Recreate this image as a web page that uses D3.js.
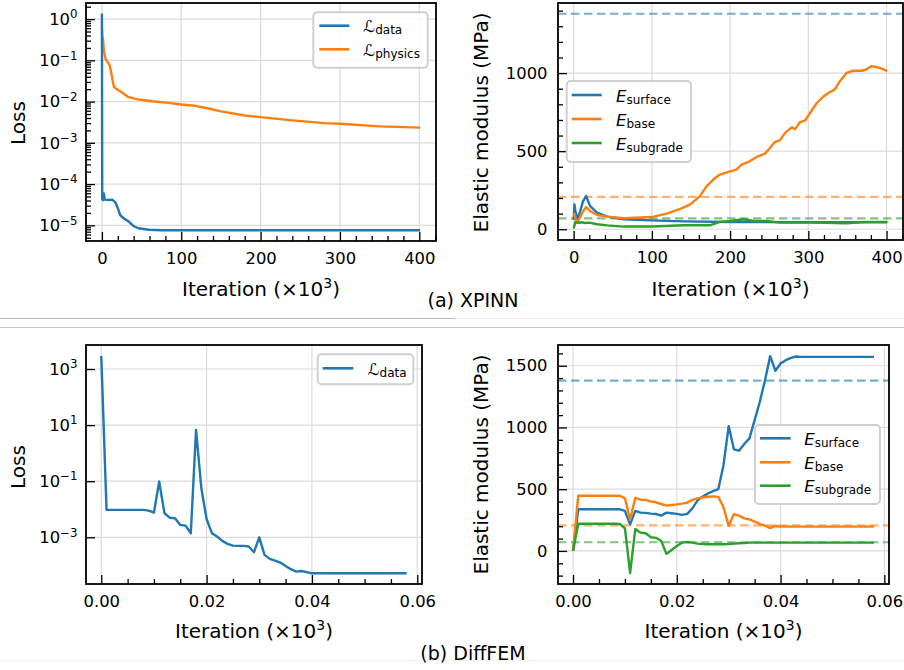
<!DOCTYPE html>
<html>
<head>
<meta charset="utf-8">
<script src="https://cdn.jsdelivr.net/npm/d3@7"></script>
<style>
  body { margin: 0; background: #fff; }
  svg { display: block; }
  text { font-family: "DejaVu Sans", "Liberation Sans", sans-serif; fill: #000; }
</style>
</head>
<body>
<svg id="fig" width="904" height="670"></svg>
<script>
// ---------- (a) XPINN: loss histories (iteration in thousands) ----------
const xpinnDataIter = [0, 0.4, 1.5, 2.5, 3.5, 8.8, 13, 17, 20, 23, 27.5, 33.8, 40, 46, 59, 76, 150, 250, 401];
const xpinnDataLoss = [1.36, 4.3e-5, 4.1e-5, 5.9e-5, 4.2e-5, 4.1e-5, 4.2e-5, 3.6e-5, 2.6e-5, 1.78e-5, 1.48e-5,
  1.23e-5, 9.5e-6, 8.5e-6, 7.8e-6, 7.6e-6, 7.6e-6, 7.6e-6, 7.6e-6];
const xpinnPhysIter = [0, 0.6, 1.3, 2.5, 4.6, 7.5, 10, 12, 15, 18, 23, 27.5, 33, 38, 46, 63, 84, 100, 117, 130,
  150, 180, 200, 240, 280, 300, 350, 401];
const xpinnPhysLoss = [0.65, 0.36, 0.34, 0.17, 0.107, 0.089, 0.074, 0.047, 0.023, 0.0204, 0.0178, 0.0155, 0.0129,
  0.0123, 0.0112, 0.0102, 0.0093, 0.0085, 0.0079, 0.0071, 0.0058, 0.0046, 0.0042, 0.0035, 0.0030, 0.0029,
  0.0025, 0.00234];

// ---------- (a) XPINN: identified moduli (MPa) ----------
const xpinnSurfIter = [0, 1, 2, 5, 8, 12, 16, 21, 30, 43, 64, 100, 141, 200, 300, 401];
const xpinnSurf = [60, 159, 120, 64, 110, 180, 212, 148, 106, 81, 64, 57, 50, 46, 45, 45];
const xpinnBaseIter = [0, 1, 3, 5, 8, 12, 16, 21, 30, 43, 64, 100, 120, 137, 149, 161.5, 170, 178.4, 187, 200,
  208, 214.7, 225, 234, 244.5, 251, 257, 263.6, 270, 278.6, 283, 289, 296, 302, 310.5, 319, 325, 334, 340,
  349, 357, 368, 374, 381, 389, 395.6, 401];
const xpinnBase = [80, 100, 55, 45, 75, 115, 142, 117, 91, 81, 70, 78, 102, 132, 159, 212, 276, 318, 350, 371,
  382, 414, 435, 463, 484, 520, 558, 569, 616, 652, 641, 684, 697, 743, 807, 849, 871, 896, 945,
  1002, 1015, 1015, 1023, 1045, 1036, 1025, 1013];
const xpinnSubIter = [0, 2, 5, 10, 15, 20, 30, 43, 64, 100, 141, 174, 187, 200, 217, 230, 247, 264, 306, 349, 374, 401];
const xpinnSub = [5, 45, 40, 45, 40, 42, 32, 25, 17, 17, 25, 25, 47, 53, 64, 53, 53, 42, 42, 38, 47, 47];

// ---------- (b) DiffFEM: one value per iteration, 0..58 (x in thousands) ----------
const femIter = d3.range(59).map(i => i / 1000);
const femLoss = [2930, 9.5e-3, 9.5e-3, 9.5e-3, 9.5e-3, 9.5e-3, 9.5e-3, 9.5e-3, 9.5e-3, 8.97e-3, 7.6e-3,
  0.097, 7.2e-3, 5.0e-3, 4.8e-3, 2.77e-3, 2.62e-3, 1.40e-3, 6.75, 0.056, 4.5e-3,
  1.4e-3, 1.06e-3, 7.45e-4, 5.8e-4, 5.07e-4, 4.93e-4, 4.93e-4, 4.68e-4, 2.94e-4, 1.0e-3,
  2.36e-4, 1.70e-4, 1.48e-4, 1.26e-4, 9.5e-5, 7.3e-5, 6.0e-5, 6.3e-5, 5.7e-5, 5.2e-5,
  5.2e-5, 5.2e-5, 5.2e-5, 5.2e-5, 5.2e-5, 5.2e-5, 5.2e-5, 5.2e-5, 5.2e-5, 5.2e-5,
  5.2e-5, 5.2e-5, 5.2e-5, 5.2e-5, 5.2e-5, 5.2e-5, 5.2e-5, 5.2e-5];
const femSurf = [0, 337, 337, 337, 337, 337, 337, 337, 337, 337, 324,
  215, 324, 310, 308, 302, 299, 286, 310, 305, 300,
  292, 300, 345, 410, 440, 465, 485, 500, 696, 1011,
  823, 812, 866, 912, 1060, 1208, 1383, 1578, 1459, 1518,
  1545, 1564, 1575, 1572, 1572, 1572, 1572, 1572, 1572, 1572,
  1572, 1572, 1572, 1572, 1572, 1572, 1572, 1572];
const femBase = [0, 447, 447, 447, 447, 447, 447, 447, 447, 447, 426,
  255, 430, 415, 413, 400, 394, 380, 367, 372, 377,
  383, 391, 413, 426, 434, 439, 442, 438, 355, 203,
  297, 286, 264, 256, 237, 218, 205, 185, 202, 197,
  197, 197, 197, 197, 197, 197, 197, 197, 197, 197,
  197, 197, 197, 197, 197, 197, 197, 197];
const femSub = [0, 220, 220, 220, 220, 220, 220, 220, 220, 218, 184,
  -180, 178, 148, 143, 111, 106, 81, -24, 8, 40,
  67, 72, 67, 59, 56, 54, 54, 54, 54, 56,
  59, 62, 64, 67, 67, 67, 67, 67, 67, 67,
  67, 67, 67, 67, 67, 67, 67, 67, 67, 67,
  67, 67, 67, 67, 67, 67, 67, 67];

// reference (true) moduli, MPa
const trueModuli = [1380, 207, 70];

const BLUE = "#1f77b4", ORANGE = "#ff7f0e", GREEN = "#2ca02c";
const layerColors = [BLUE, ORANGE, GREEN];
const layerNames = ["surface", "base", "subgrade"];

const svg = d3.select("#fig");
const TICK_FS = 16.4, LABEL_FS = 20;

// separators between the two rows
svg.append("line").attr("x1", 0).attr("x2", 455).attr("y1", 318.5).attr("y2", 318.5).attr("stroke", "#b8b8b8");
svg.append("line").attr("x1", 455).attr("x2", 904).attr("y1", 318.5).attr("y2", 318.5).attr("stroke", "#ececec");
svg.append("line").attr("x1", 0).attr("x2", 904).attr("y1", 327.5).attr("y2", 327.5).attr("stroke", "#c6c6c6");
svg.append("line").attr("x1", 0).attr("x2", 904).attr("y1", 660.5).attr("y2", 660.5).attr("stroke", "#f3f3f3");

let clipId = 0;

function panel(cfg) {
  const b = cfg.box;
  const g = svg.append("g");
  const x = cfg.x.range([b.l, b.r]);
  const y = cfg.y.range([b.b, b.t]);

  // grid at major ticks
  const grid = g.append("g").attr("stroke", "#dcdcdc").attr("stroke-width", 1.2);
  grid.selectAll(".gx").data(cfg.xMajor).join("line")
    .attr("x1", d => x(d)).attr("x2", d => x(d)).attr("y1", b.t).attr("y2", b.b);
  grid.selectAll(".gy").data(cfg.yMajor).join("line")
    .attr("x1", b.l).attr("x2", b.r).attr("y1", d => y(d)).attr("y2", d => y(d));

  const id = "clip" + (clipId++);
  g.append("clipPath").attr("id", id).append("rect")
    .attr("x", b.l).attr("y", b.t).attr("width", b.r - b.l).attr("height", b.b - b.t);
  const plot = g.append("g").attr("clip-path", `url(#${id})`);

  // axes: ticks point inwards
  const styleAxis = sel => {
    sel.select(".domain").remove();
    sel.selectAll(".tick line").attr("stroke", "#000").attr("stroke-width", 1.3);
    sel.selectAll("text").attr("font-size", TICK_FS).attr("font-family", null).attr("fill", "#000");
    sel.attr("font-family", null);
  };
  const xa = g.append("g").attr("transform", `translate(0,${b.b})`)
    .call(d3.axisBottom(x).tickValues(cfg.xMajor).tickSize(-9).tickPadding(11.5).tickFormat(cfg.xFmt));
  styleAxis(xa);
  const xm = g.append("g").attr("transform", `translate(0,${b.b})`)
    .call(d3.axisBottom(x).tickValues(cfg.xMinor).tickSize(-5).tickFormat(""));
  styleAxis(xm);

  const ya = g.append("g").attr("transform", `translate(${b.l},0)`)
    .call(d3.axisLeft(y).tickValues(cfg.yMajor).tickSize(-9).tickPadding(cfg.yPad)
      .tickFormat(cfg.yLog ? () => "10" : d3.format("d")));
  styleAxis(ya);
  if (cfg.yLog) {
    ya.selectAll(".tick text").each(function (d) {
      const e = Math.round(Math.log10(d));
      d3.select(this).append("tspan").attr("dy", "-0.55em").attr("font-size", "0.72em")
        .text(e < 0 ? "\u2212" + (-e) : String(e));
    });
  }
  if (cfg.yMinor.length) {
    const ym = g.append("g").attr("transform", `translate(${b.l},0)`)
      .call(d3.axisLeft(y).tickValues(cfg.yMinor).tickSize(-5).tickFormat(""));
    styleAxis(ym);
  }

  // frame
  g.append("rect").attr("x", b.l).attr("y", b.t).attr("width", b.r - b.l).attr("height", b.b - b.t)
    .attr("fill", "none").attr("stroke", "#000").attr("stroke-width", 1.8);

  // x label
  const xl = g.append("text").attr("x", (b.l + b.r) / 2).attr("y", cfg.xLabelY)
    .attr("text-anchor", "middle").attr("font-size", LABEL_FS);
  xl.append("tspan").text("Iteration (\u00d710");
  xl.append("tspan").attr("dy", -8).attr("font-size", 14).text("3");
  xl.append("tspan").attr("dy", 8).text(")");

  // y label
  g.append("text").attr("transform", `translate(${cfg.yLabelX},${cfg.yLabelY}) rotate(-90)`)
    .attr("dy", "0.36em").attr("text-anchor", "middle").attr("font-size", LABEL_FS).text(cfg.yLabel);

  return { g, plot, x, y };
}

function drawLine(p, xs, ys, color, dash) {
  const pts = xs.map((v, i) => [v, ys[i]]);
  p.plot.append("path").datum(pts)
    .attr("fill", "none").attr("stroke", color).attr("stroke-width", 2.4)
    .attr("stroke-linejoin", "round")
    .attr("d", d3.line().x(d => p.x(d[0])).y(d => p.y(d[1])));
}

function drawTrue(p) {
  const [x0, x1] = p.x.domain();
  trueModuli.forEach((v, i) => {
    p.plot.append("line").attr("x1", p.x(x0)).attr("x2", p.x(x1))
      .attr("y1", p.y(v)).attr("y2", p.y(v))
      .attr("stroke", layerColors[i]).attr("stroke-opacity", 0.6)
      .attr("stroke-width", 2.2).attr("stroke-dasharray", "8.5,4.5");
  });
}

// legend: items = [{color, main, italic, sub}]
function legend(box, lineX, textX, rowsY, items) {
  const g = svg.append("g");
  g.append("rect").attr("x", box[0]).attr("y", box[1]).attr("width", box[2] - box[0]).attr("height", box[3] - box[1])
    .attr("rx", 4).attr("fill", "#fff").attr("fill-opacity", 0.85)
    .attr("stroke", "#d0d0d0").attr("stroke-width", 2);
  items.forEach((it, i) => {
    const yy = rowsY[i];
    g.append("line").attr("x1", lineX[0]).attr("x2", lineX[1]).attr("y1", yy).attr("y2", yy)
      .attr("stroke", it.color).attr("stroke-width", 2.6);
    const t = g.append("text").attr("x", textX).attr("y", yy + 6.5).attr("font-size", 16.5);
    t.append("tspan").attr("font-style", it.italic ? "italic" : null).text(it.main);
    t.append("tspan").attr("dy", 2.2).attr("font-size", 12).text(it.sub);
  });
}

// ---------------- (a) XPINN ----------------
const logMinor = (lo, hi) => {
  const out = [];
  for (let e = Math.floor(Math.log10(lo)); e <= Math.ceil(Math.log10(hi)); e++)
    for (let k = 2; k <= 9; k++) { const v = k * Math.pow(10, e); if (v > lo && v < hi) out.push(v); }
  return out;
};
const stepTicks = (lo, hi, step, skip) => d3.range(Math.ceil(lo / step) * step, hi + step * 1e-6, step)
  .map(v => +v.toFixed(6)).filter(v => v > lo + step * 0.05 && v < hi - step * 0.05 && !skip.some(s => Math.abs(s - v) < step * 1e-3));

const itDom = [-20.05, 421.05];
const itMajor = [0, 100, 200, 300, 400];
const itMinor = stepTicks(itDom[0], itDom[1], 20, itMajor);

const tlDom = [Math.pow(10, -5.38), Math.pow(10, 0.39)];
const pA1 = panel({
  box: { l: 86, r: 436, t: 3, b: 241 },
  x: d3.scaleLinear().domain(itDom), y: d3.scaleLog().domain(tlDom),
  xMajor: itMajor, xMinor: itMinor, xFmt: d3.format("d"),
  yMajor: [1e-5, 1e-4, 1e-3, 1e-2, 1e-1, 1], yMinor: logMinor(tlDom[0], tlDom[1]),
  yLog: true, yPad: 8.5,
  xLabelY: 295.5, yLabel: "Loss", yLabelX: 18, yLabelY: 123
});
drawLine(pA1, xpinnPhysIter, xpinnPhysLoss, ORANGE);
drawLine(pA1, xpinnDataIter, xpinnDataLoss, BLUE);
legend([313.3, 12.3, 427.7, 67.7], [319.3, 349.3], 363.3, [25.7, 49.3], [
  { color: BLUE, main: "\u2112", sub: "data" },
  { color: ORANGE, main: "\u2112", sub: "physics" }
]);

const trDom = [-69, 1449];
const pA2 = panel({
  box: { l: 558, r: 903, t: 3, b: 240 },
  x: d3.scaleLinear().domain(itDom), y: d3.scaleLinear().domain(trDom),
  xMajor: itMajor, xMinor: itMinor, xFmt: d3.format("d"),
  yMajor: [0, 500, 1000], yMinor: stepTicks(trDom[0], trDom[1], 100, [0, 500, 1000]),
  yLog: false, yPad: 10.5,
  xLabelY: 295.5, yLabel: "Elastic modulus (MPa)", yLabelX: 480.5, yLabelY: 122.5
});
drawTrue(pA2);
drawLine(pA2, xpinnSurfIter, xpinnSurf, BLUE);
drawLine(pA2, xpinnBaseIter, xpinnBase, ORANGE);
drawLine(pA2, xpinnSubIter, xpinnSub, GREEN);
legend([566.7, 81, 691, 162], [571.7, 601.7], 616, [95, 119, 143],
  layerNames.map((n, i) => ({ color: layerColors[i], main: "E", italic: true, sub: n })));

svg.append("text").attr("x", 473).attr("y", 307).attr("text-anchor", "middle").attr("font-size", 19).text("(a) XPINN");

// ---------------- (b) DiffFEM ----------------
const femDom = [-0.0029, 0.0609];
const femMajor = [0, 0.02, 0.04, 0.06];
const femMinor = stepTicks(femDom[0], femDom[1], 0.005, femMajor);

const blDom = [Math.pow(10, -4.665), Math.pow(10, 3.856)];
const pB1 = panel({
  box: { l: 86, r: 422, t: 345, b: 584 },
  x: d3.scaleLinear().domain(femDom), y: d3.scaleLog().domain(blDom),
  xMajor: femMajor, xMinor: femMinor, xFmt: d3.format(".2f"),
  yMajor: [1e-3, 1e-1, 1e1, 1e3], yMinor: [],
  yLog: true, yPad: 8.5,
  xLabelY: 638.3, yLabel: "Loss", yLabelX: 18, yLabelY: 467
});
drawLine(pB1, femIter, femLoss, BLUE);
legend([317.7, 354.3, 413.3, 384.3], [322.7, 353.3], 367.7, [368.3], [
  { color: BLUE, main: "\u2112", sub: "data" }
]);

const brDom = [-268, 1668];
const pB2 = panel({
  box: { l: 558, r: 889, t: 345, b: 584 },
  x: d3.scaleLinear().domain(femDom), y: d3.scaleLinear().domain(brDom),
  xMajor: femMajor, xMinor: femMinor, xFmt: d3.format(".2f"),
  yMajor: [0, 500, 1000, 1500], yMinor: stepTicks(brDom[0], brDom[1], 100, [0, 500, 1000, 1500]),
  yLog: false, yPad: 10.5,
  xLabelY: 638.3, yLabel: "Elastic modulus (MPa)", yLabelX: 480.5, yLabelY: 464.5
});
drawTrue(pB2);
drawLine(pB2, femIter, femSurf, BLUE);
drawLine(pB2, femIter, femBase, ORANGE);
drawLine(pB2, femIter, femSub, GREEN);
legend([755, 425, 880, 504], [760, 790.7], 804.3, [438.3, 462.3, 485.7],
  layerNames.map((n, i) => ({ color: layerColors[i], main: "E", italic: true, sub: n })));

svg.append("text").attr("x", 473).attr("y", 660).attr("text-anchor", "middle").attr("font-size", 19).text("(b) DiffFEM");
</script>
</body>
</html>
